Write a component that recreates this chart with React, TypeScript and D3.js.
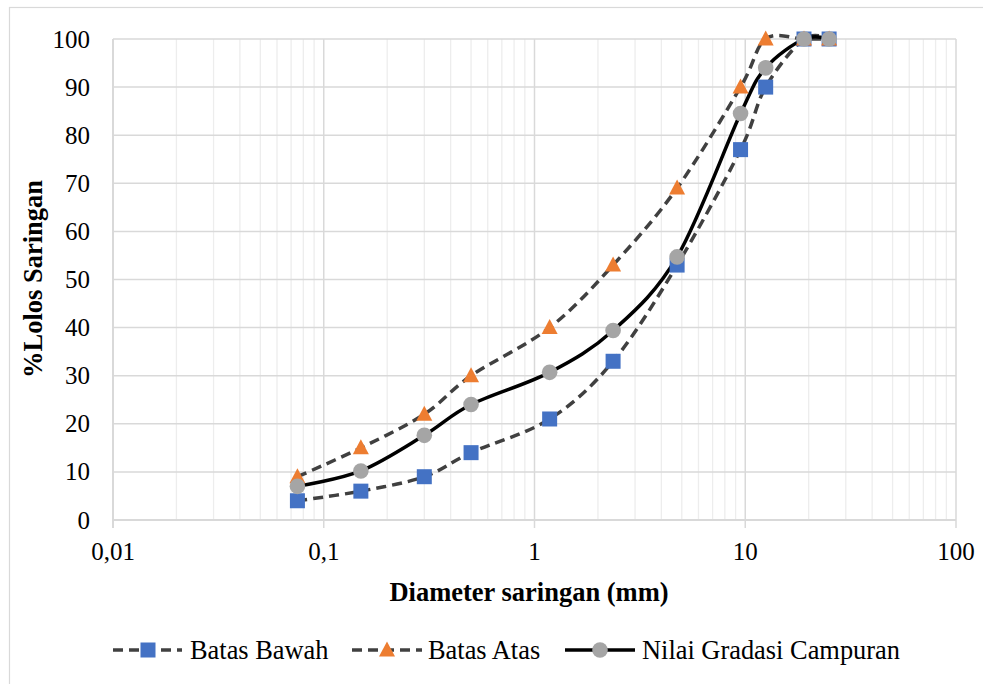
import React from "react";
import * as d3 from "d3";

const sieveSizes = [0.075, 0.15, 0.3, 0.5, 1.18, 2.36, 4.75, 9.5, 12.5, 19, 25];
const batasBawah = [4, 6, 9, 14, 21, 33, 53, 77, 90, 100, 100];
const batasAtas = [9, 15, 22, 30, 40, 53, 69, 90, 100, 100, 100];
const campuran = [7, 10.2, 17.6, 24, 30.7, 39.4, 54.7, 84.5, 94, 100, 100];
const xTicks = [0.01, 0.1, 1, 10, 100];
const xTickLabels = ["0,01", "0,1", "1", "10", "100"];
const yTicks = [0, 10, 20, 30, 40, 50, 60, 70, 80, 90, 100];
const seriesNames = ["Batas Bawah", "Batas Atas", "Nilai Gradasi Campuran"];

const W = 983;
const H = 684;
const L = 113, R = 956, T = 39, B = 520;
const FONT = "'Liberation Serif', 'Times New Roman', serif";

export default function App() {
  const x = d3.scaleLog().domain([0.01, 100]).range([L, R]);
  const y = d3.scaleLinear().domain([0, 100]).range([B, T]);

  const minor: number[] = [];
  for (let e = -2; e < 2; e++) {
    for (let m = 2; m <= 9; m++) minor.push(m * Math.pow(10, e));
  }

  const line = d3
    .line<[number, number]>()
    .x((d) => x(d[0]))
    .y((d) => y(d[1]))
    .curve(d3.curveCatmullRom.alpha(0));

  const pts = (vals: number[]) => sieveSizes.map((s, i) => [s, vals[i]] as [number, number]);

  const dashColor = "#404040";
  const blue = "#4472C4";
  const orange = "#ED7D31";
  const grey = "#A5A5A5";

  const square = (cx: number, cy: number, k: string) => (
    <rect key={k} x={cx - 7.5} y={cy - 7.5} width={15} height={15} fill={blue} />
  );
  const tri = (cx: number, cy: number, k: string) => (
    <path key={k} d={`M${cx},${cy - 8.5} L${cx + 8},${cy + 6.5} L${cx - 8},${cy + 6.5} Z`} fill={orange} />
  );
  const circ = (cx: number, cy: number, k: string) => (
    <circle key={k} cx={cx} cy={cy} r={7.8} fill={grey} />
  );

  const legendY = 650;

  return (
    <svg
      width={W}
      height={H}
      style={{ position: "absolute", left: 0, top: 0, background: "#fff" }}
      fontFamily={FONT}
    >
      <rect x={0} y={0} width={W} height={H} fill="#fff" />
      <rect x={9.5} y={7.5} width={W + 20} height={H + 20} fill="none" stroke="#d9d9d9" strokeWidth={1.2} />

      {minor.map((v, i) => (
        <line key={"mn" + i} x1={x(v)} x2={x(v)} y1={T} y2={B} stroke="#ededed" strokeWidth={1.3} />
      ))}
      {yTicks.map((v) => (
        <line key={"hy" + v} x1={L} x2={R} y1={y(v)} y2={y(v)} stroke="#d9d9d9" strokeWidth={1.5} />
      ))}
      {xTicks.map((v) => (
        <line key={"mj" + v} x1={x(v)} x2={x(v)} y1={T} y2={B + 8} stroke="#d9d9d9" strokeWidth={1.5} />
      ))}
      <line x1={L} x2={R} y1={B} y2={B} stroke="#d9d9d9" strokeWidth={1.8} />
      <line x1={L} x2={L} y1={T} y2={B + 8} stroke="#d9d9d9" strokeWidth={1.8} />

      {yTicks.map((v) => (
        <text key={"yl" + v} x={90} y={y(v) + 8.5} textAnchor="end" fontSize={25} fill="#000">
          {v}
        </text>
      ))}
      {xTicks.map((v, i) => (
        <text key={"xl" + v} x={x(v)} y={560} textAnchor="middle" fontSize={25} fill="#000">
          {xTickLabels[i]}
        </text>
      ))}

      <text x={529} y={601} textAnchor="middle" fontSize={26.5} fontWeight="bold">
        Diameter saringan (mm)
      </text>
      <text
        transform={`translate(42,279) rotate(-90)`}
        textAnchor="middle"
        fontSize={26.5}
        fontWeight="bold"
      >
        %Lolos Saringan
      </text>

      <path d={line(pts(batasBawah)) || ""} fill="none" stroke={dashColor} strokeWidth={3.5} strokeDasharray="10,6" />
      <path d={line(pts(batasAtas)) || ""} fill="none" stroke={dashColor} strokeWidth={3.5} strokeDasharray="10,6" />
      <path d={line(pts(campuran)) || ""} fill="none" stroke="#000" strokeWidth={3.5} />

      {sieveSizes.map((s, i) => square(x(s), y(batasBawah[i]), "sq" + i))}
      {sieveSizes.map((s, i) => tri(x(s), y(batasAtas[i]), "tr" + i))}
      {sieveSizes.map((s, i) => circ(x(s), y(campuran[i]), "ci" + i))}

      <line x1={113} x2={182} y1={legendY} y2={legendY} stroke={dashColor} strokeWidth={3.5} strokeDasharray="10,6" />
      {square(148, legendY, "lsq")}
      <text x={190} y={legendY + 8.5} fontSize={26.4}>{seriesNames[0]}</text>

      <line x1={352} x2={422} y1={legendY} y2={legendY} stroke={dashColor} strokeWidth={3.5} strokeDasharray="10,6" />
      {tri(387, legendY, "ltr")}
      <text x={428} y={legendY + 8.5} fontSize={26.4}>{seriesNames[1]}</text>

      <line x1={565} x2={635} y1={legendY} y2={legendY} stroke="#000" strokeWidth={3.5} />
      {circ(600, legendY, "lci")}
      <text x={642} y={legendY + 8.5} fontSize={26.4}>{seriesNames[2]}</text>
    </svg>
  );
}
